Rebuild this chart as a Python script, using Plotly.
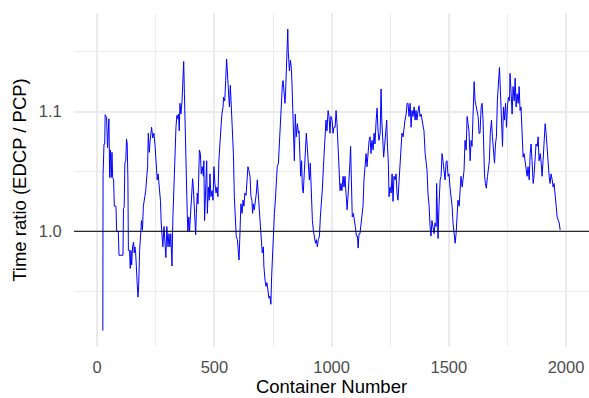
import plotly.graph_objects as go

# Container Number / Time ratio readings, by stretch of the series
seg1_x = [24, 25, 29, 32, 34, 40, 44, 47, 50, 53, 56, 60, 63, 66, 70, 73, 80, 83, 90, 93,
          110, 112, 115, 118, 122, 125, 128, 131, 133, 138, 141, 144, 147, 151, 155, 158, 161, 164,
          167, 171, 174, 177, 181, 186, 189, 193, 197, 203, 207, 212, 215, 218, 222, 226, 230, 232,
          237, 242, 247, 252, 256, 260, 266, 270, 273, 277, 280, 285, 289, 293, 297, 302, 306, 310,
          314, 319]
seg1_y = [0.917, 1.0475, 1.073, 1.073, 1.0975, 1.095, 1.070, 1.094, 1.094, 1.045, 1.068, 1.045, 1.066, 1.045, 1.043, 1.021, 1.021, 1.0, 1.0, 0.98,
          0.98, 1.019, 1.02, 1.057, 1.059, 1.077, 1.073, 1.043, 0.984, 0.984, 0.969, 0.984, 0.972, 0.987, 0.991, 0.982, 0.987, 0.982,
          0.964, 0.955, 0.945, 0.955, 0.984, 0.998, 1.009, 1.001, 1.021, 1.029, 1.034, 1.047, 1.054, 1.082, 1.066, 1.076, 1.084, 1.087,
          1.078, 1.082, 1.071, 1.055, 1.043, 1.048, 1.032, 1.025, 1.007, 0.998, 0.987, 1.004, 0.984, 0.978, 1.004, 0.987, 0.998, 0.987,
          0.998, 0.971]

seg2_x = [323, 326, 330, 333, 336, 340, 344, 347, 350, 353, 357, 362, 364, 369, 372, 376, 380, 384, 387, 391,
          394, 398, 403, 407, 410, 413, 417, 420, 423, 427, 430, 433, 436, 440, 444, 448, 453, 455, 458, 463,
          467, 470, 474, 478, 481, 485, 490, 494, 498, 502, 507, 511, 515, 519, 524, 528, 532, 537, 539, 544,
          548, 552, 555, 559, 564, 568, 572, 576, 581, 585, 589, 593, 598, 601, 605, 608, 610, 613, 618, 622,
          626, 630, 635, 639, 643, 647]
seg2_y = [1.012, 1.029, 1.059, 1.071, 1.087, 1.097, 1.094, 1.098, 1.084, 1.107, 1.098, 1.109, 1.121, 1.142, 1.115, 1.071, 1.043, 1.015, 1.0, 1.012,
          1.0, 1.016, 1.026, 1.044, 1.037, 1.026, 1.009, 0.997, 1.015, 1.032, 1.023, 1.04, 1.068, 1.065, 1.048, 1.054, 1.046, 1.059, 1.009, 1.037,
          1.059, 1.015, 1.037, 1.026, 1.048, 1.029, 1.034, 1.026, 1.054, 1.04, 1.032, 1.037, 1.029, 1.059, 1.071, 1.087, 1.098, 1.104, 1.112, 1.109,
          1.126, 1.144, 1.134, 1.121, 1.104, 1.122, 1.104, 1.09, 1.065, 1.029, 1.009, 0.996, 0.993, 0.982, 0.976, 0.993, 1.009, 1.023, 1.015, 1.026,
          1.021, 1.032, 1.03, 1.048, 1.054, 1.051]

seg3_x = [652, 656, 660, 663, 666, 670, 675, 679, 683, 687, 692, 696, 700, 704, 709, 711, 716, 720, 724, 729,
          733, 737, 741, 744, 747, 751, 756, 760, 764, 768, 773, 777, 781, 786, 790, 793, 797, 801, 804, 808,
          813, 815, 820, 824, 828, 831, 834, 838, 841, 845, 849, 854, 858, 861, 864, 868, 872, 875, 879, 884,
          888, 892, 896, 901, 905, 909, 914, 918, 922, 926, 931, 935, 939, 943, 948, 952, 956, 961, 965, 969,
          973]
seg3_y = [1.046, 1.029, 1.026, 1.015, 1.023, 1.018, 1.025, 1.032, 1.043, 1.032, 1.021, 1.009, 0.998, 0.982, 0.987, 0.971, 0.959, 0.954, 0.957, 0.948,
          0.944, 0.946, 0.939, 0.962, 0.976, 1.004, 1.015, 1.026, 1.043, 1.054, 1.057, 1.073, 1.096, 1.104, 1.123, 1.126, 1.115, 1.107, 1.118, 1.14,
          1.169, 1.151, 1.134, 1.143, 1.137, 1.123, 1.104, 1.093, 1.059, 1.098, 1.079, 1.09, 1.082, 1.084, 1.057, 1.046, 1.059, 1.037, 1.032, 1.057,
          1.065, 1.082, 1.071, 1.057, 1.043, 1.057, 1.026, 1.009, 1.001, 0.996, 0.99, 0.993, 0.987, 0.993, 0.996, 1.012, 1.021, 1.037, 1.054, 1.068,
          1.082]

seg4_x = [976, 980, 985, 989, 993, 997, 1002, 1006, 1010, 1015, 1019, 1023, 1027, 1032, 1036, 1040, 1044, 1049, 1053, 1057,
          1061, 1066, 1070, 1074, 1078, 1081, 1084, 1088, 1093, 1097, 1101, 1106, 1110, 1113, 1117, 1121, 1125, 1130, 1134, 1138,
          1143, 1147, 1151, 1155, 1160, 1164, 1168, 1172, 1177, 1181, 1185, 1190, 1194, 1198, 1202, 1207, 1211, 1214, 1218, 1222,
          1226, 1231, 1235, 1238, 1242, 1245, 1249, 1254, 1258, 1262, 1266, 1271, 1275, 1279, 1283, 1288, 1292, 1296, 1300]
seg4_y = [1.093, 1.084, 1.101, 1.096, 1.082, 1.096, 1.093, 1.082, 1.087, 1.087, 1.101, 1.09, 1.071, 1.057, 1.034, 1.04, 1.034, 1.046, 1.037, 1.046,
          1.032, 1.018, 1.029, 1.04, 1.057, 1.071, 1.026, 1.012, 1.015, 1.007, 1.004, 0.996, 0.996, 0.986, 0.998, 0.998, 1.004, 1.012, 1.021, 1.043,
          1.059, 1.065, 1.054, 1.068, 1.076, 1.079, 1.065, 1.076, 1.068, 1.082, 1.073, 1.093, 1.103, 1.084, 1.076, 1.082, 1.119, 1.093, 1.076, 1.062,
          1.071, 1.082, 1.093, 1.073, 1.057, 1.029, 1.037, 1.032, 1.048, 1.025, 1.046, 1.043, 1.048, 1.032, 1.026, 1.043, 1.057, 1.071, 1.082]

seg5_x = [1305, 1309, 1313, 1318, 1322, 1326, 1330, 1335, 1339, 1343, 1347, 1352, 1356, 1360, 1364, 1369, 1373, 1377, 1382, 1386,
          1390, 1394, 1399, 1403, 1407, 1411, 1416, 1420, 1424, 1428, 1433, 1437, 1441, 1446, 1448, 1451, 1454, 1458, 1463, 1467,
          1471, 1475, 1480, 1484, 1488, 1492, 1497, 1501, 1505, 1510, 1514, 1518, 1522, 1527, 1531, 1535, 1539, 1544, 1548, 1552,
          1557, 1561, 1565, 1569, 1574, 1578, 1582, 1586, 1591, 1595, 1599, 1604, 1608, 1612, 1616, 1621, 1625, 1629]
seg5_y = [1.079, 1.087, 1.093, 1.098, 1.107, 1.107, 1.096, 1.107, 1.087, 1.101, 1.096, 1.104, 1.093, 1.101, 1.093, 1.101, 1.105, 1.096, 1.098, 1.093,
          1.087, 1.084, 1.065, 1.059, 1.051, 1.032, 1.021, 1.004, 0.996, 1.009, 1.001, 0.998, 1.007, 1.004, 1.04, 1.021, 0.994, 1.021, 1.043, 1.046,
          1.065, 1.059, 1.046, 1.043, 1.057, 1.059, 1.046, 1.048, 1.037, 1.029, 1.021, 1.007, 0.996, 0.99, 0.998, 1.015, 1.026, 1.021, 1.034, 1.046,
          1.037, 1.043, 1.051, 1.076, 1.068, 1.096, 1.087, 1.084, 1.059, 1.076, 1.071, 1.107, 1.125, 1.109, 1.104, 1.101, 1.096, 1.082]

seg6_x = [1633, 1638, 1642, 1646, 1649, 1652, 1656, 1660, 1665, 1669, 1673, 1677, 1682, 1686, 1690, 1695, 1699, 1703, 1707, 1712,
          1716, 1720, 1724, 1729, 1733, 1737, 1742, 1746, 1750, 1754, 1759, 1761, 1766, 1770, 1774, 1779, 1783, 1787, 1791, 1796,
          1800, 1804, 1808, 1813, 1817, 1821, 1826, 1830, 1834, 1838, 1843, 1847, 1851, 1855, 1860, 1864, 1868, 1872, 1877, 1881,
          1885, 1890, 1894, 1898, 1902, 1907, 1911, 1915, 1919, 1924, 1928, 1932, 1936, 1941, 1945, 1949, 1954, 1958, 1962, 1966,
          1971, 1975]
seg6_y = [1.082, 1.104, 1.107, 1.093, 1.059, 1.048, 1.04, 1.036, 1.046, 1.051, 1.059, 1.082, 1.093, 1.079, 1.071, 1.057, 1.073, 1.079, 1.109, 1.121,
          1.137, 1.118, 1.098, 1.071, 1.104, 1.093, 1.107, 1.087, 1.104, 1.112, 1.109, 1.132, 1.115, 1.098, 1.121, 1.109, 1.128, 1.104, 1.115, 1.107,
          1.121, 1.101, 1.104, 1.079, 1.062, 1.065, 1.059, 1.051, 1.046, 1.054, 1.043, 1.065, 1.073, 1.059, 1.04, 1.048, 1.065, 1.073, 1.071, 1.079,
          1.059, 1.065, 1.057, 1.046, 1.059, 1.079, 1.09, 1.082, 1.068, 1.059, 1.046, 1.04, 1.048, 1.043, 1.037, 1.04, 1.032, 1.021, 1.012, 1.009,
          1.007, 1.001]

container_number = seg1_x + seg2_x + seg3_x + seg4_x + seg5_x + seg6_x
time_ratio = seg1_y + seg2_y + seg3_y + seg4_y + seg5_y + seg6_y

x_ticks = [0, 500, 1000, 1500, 2000]
y_ticks = [1.0, 1.1]
y_tick_text = ["1.0", "1.1"]
reference_ratio = 1.0

FONT = "Liberation Sans, Arial, sans-serif"

fig = go.Figure()
fig.add_trace(go.Scatter(x=container_number, y=time_ratio, mode="lines",
                         line=dict(color="#0000FF", width=1), hoverinfo="skip",
                         showlegend=False))

fig.add_shape(type="line", xref="paper", x0=0, x1=1, yref="y",
              y0=reference_ratio, y1=reference_ratio,
              line=dict(color="black", width=1))

grid = "#EBEBEB"
fig.update_layout(
    width=589, height=398,
    margin=dict(l=74, r=0, t=13, b=51),
    paper_bgcolor="white", plot_bgcolor="white",
    font=dict(family=FONT),
    xaxis=dict(range=[-99, 2098], tickvals=x_ticks, showgrid=True, gridcolor=grid, gridwidth=2,
               zeroline=False, showline=False, ticks="outside", ticklen=5,
               tickcolor="rgba(0,0,0,0)", tickfont=dict(size=16.5, color="#4D4D4D"),
               minor=dict(dtick=250, showgrid=True, gridcolor=grid, gridwidth=1),
               title=dict(text="Container Number", font=dict(size=18.5, color="black"), standoff=3),
               automargin=False),
    yaxis=dict(range=[0.9033, 1.1825], tickvals=y_ticks, ticktext=y_tick_text, showgrid=True,
               gridcolor=grid, gridwidth=2, zeroline=False, showline=False, ticks="outside",
               ticklen=8, tickcolor="rgba(0,0,0,0)", tickfont=dict(size=16.5, color="#4D4D4D"),
               minor=dict(tickvals=[0.95, 1.05, 1.15], showgrid=True, gridcolor=grid, gridwidth=1),
               title=dict(text="Time ratio (EDCP / PCP)", font=dict(size=18.5, color="black"), standoff=7),
               automargin=False),
)

fig.write_html("out.html", config={"displayModeBar": False},
               post_script="document.body.style.margin='0';document.body.style.padding='0';")
